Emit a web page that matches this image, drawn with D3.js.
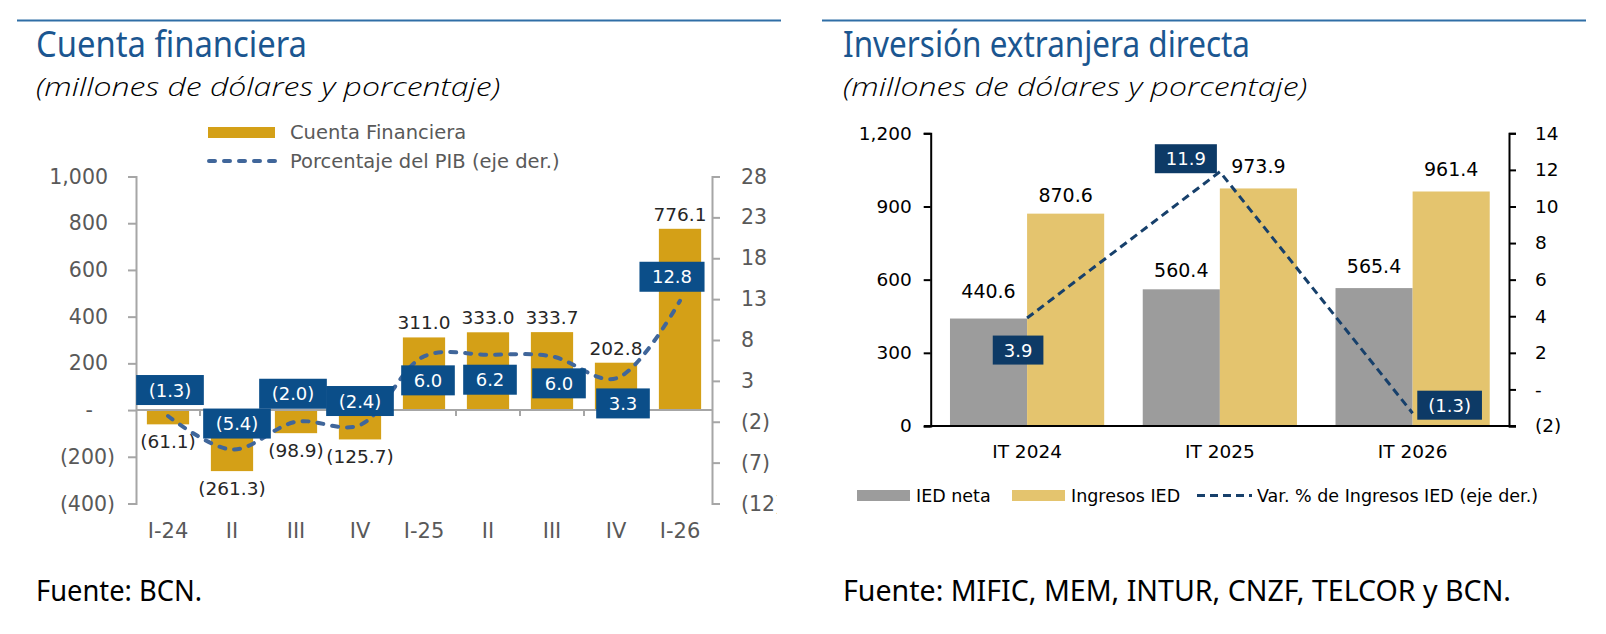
<!DOCTYPE html>
<meta charset="utf-8">
<style>
  body { margin: 0; background: #fff; }
  svg { display: block; }
</style>
<svg width="1606" height="634"></svg>
<script src="https://cdn.jsdelivr.net/npm/d3@7"></script>
<script>

// Cuenta financiera (millones de dolares, % del PIB)
var cfCategories = ["I-24", "II", "III", "IV", "I-25", "II", "III", "IV", "I-26"];
var cfCuenta = [-61.1, -261.3, -98.9, -125.7, 311.0, 333.0, 333.7, 202.8, 776.1];
var cfPib = [-1.3, -5.4, -2.0, -2.4, 6.0, 6.2, 6.0, 3.3, 12.8];
var cfLeftTicks = [-400, -200, 0, 200, 400, 600, 800, 1000];
var cfRightTicks = [-12, -7, -2, 3, 8, 13, 18, 23, 28];

// Inversion extranjera directa
var iedCategories = ["IT 2024", "IT 2025", "IT 2026"];
var iedNeta = [440.6, 560.4, 565.4];
var iedIngresos = [870.6, 973.9, 961.4];
var iedVar = [3.9, 11.9, -1.3];
var iedLeftTicks = [0, 300, 600, 900, 1200];
var iedRightTicks = [-2, 0, 2, 4, 6, 8, 10, 12, 14];

// where the % label boxes sit relative to their point
var cfBoxShift = [[2, -26], [5, -26], [-3, -28], [0, -24], [4, 24], [2, 25], [7, 27], [7, 25], [-8, -24]];
var iedBoxShift = [[-9, 32], [-34, -13], [37, -8]];
// extra lift for value labels that the line would cross
var iedNetaLift = [9, 0, 3];

var FONT = "'DejaVu Sans', Verdana, sans-serif";
var HEAD = "'Noto Sans', 'Open Sans', sans-serif";

function acct(fmt) {
  return function(v) { return v < 0 ? "(" + fmt(-v) + ")" : v === 0 ? "-" : fmt(v); };
}
var f1 = acct(d3.format(",.1f")),
    f0 = acct(d3.format(","));

var svg = d3.select("svg");

svg.append("defs").append("clipPath").attr("id", "clipL")
  .append("rect").attr("width", 777).attr("height", 634);

function header(lx0, lx1, tx, title, titleLen, foot, footLen) {
  svg.append("line")
      .attr("x1", lx0).attr("x2", lx1).attr("y1", 20.5).attr("y2", 20.5)
      .attr("stroke", "#2F6EA6").attr("stroke-width", 2);
  svg.append("text")
      .attr("x", tx).attr("y", 57)
      .attr("font-family", HEAD).attr("font-size", 36).attr("fill", "#1B5690")
      .attr("textLength", titleLen).attr("lengthAdjust", "spacingAndGlyphs")
      .text(title);
  svg.append("text")
      .attr("x", tx).attr("y", 96)
      .attr("font-family", "'Open Sans', 'Noto Sans', sans-serif").attr("font-weight", 300)
      .attr("font-size", 26).attr("font-style", "italic").attr("fill", "#000")
      .attr("textLength", 464).attr("lengthAdjust", "spacingAndGlyphs")
      .text("(millones de dólares y porcentaje)");
  svg.append("text")
      .attr("x", tx).attr("y", 601)
      .attr("font-family", HEAD)
      .attr("font-size", 29).attr("fill", "#000")
      .attr("textLength", footLen).attr("lengthAdjust", "spacingAndGlyphs")
      .text(foot);
}

header(17, 781, 36, "Cuenta financiera", 271, "Fuente: BCN.", 166);
header(822, 1586, 843, "Inversión extranjera directa", 407, "Fuente: MIFIC, MEM, INTUR, CNZF, TELCOR y BCN.", 668);

function labelBox(g, cx, cy, txt, fill, pad, h) {
  var b = g.append("g").attr("transform", "translate(" + cx + "," + cy + ")");
  var r = b.append("rect").attr("fill", fill);
  var t = b.append("text")
      .attr("text-anchor", "middle").attr("dy", "0.36em")
      .attr("font-family", FONT).attr("font-size", 18).attr("fill", "#fff")
      .text(txt);
  var w = t.node().getComputedTextLength() + pad;
  r.attr("x", -w / 2).attr("y", -h / 2).attr("width", w).attr("height", h);
}

// ---------- left: Cuenta financiera ----------
var cf = svg.append("g").attr("clip-path", "url(#clipL)");

var xCf = d3.scaleBand().domain(d3.range(cfCategories.length))
    .range([136, 712]).paddingInner(0.34).paddingOuter(0.17);
var yCf = d3.scaleLinear().domain([-400, 1000]).range([503.5, 176.5]);
var yCfR = d3.scaleLinear().domain([-12, 28]).range([503.5, 176.5]);

cf.selectAll(".bar")
  .data(cfCuenta)
  .join("rect")
    .attr("x", function(d, i) { return xCf(i); })
    .attr("width", xCf.bandwidth())
    .attr("y", function(d) { return Math.min(yCf(d), yCf(0)); })
    .attr("height", function(d) { return Math.abs(yCf(d) - yCf(0)); })
    .attr("fill", "#D4A017");

cf.selectAll(".val")
  .data(cfCuenta)
  .join("text")
    .attr("x", function(d, i) { return xCf(i) + xCf.bandwidth() / 2; })
    .attr("y", function(d) { return d >= 0 ? yCf(d) - 8 : yCf(d) + 24; })
    .attr("text-anchor", "middle")
    .attr("font-family", FONT).attr("font-size", 18.5).attr("fill", "#262626")
    .text(f1);

var axL = cf.append("g")
    .attr("transform", "translate(136,0)")
    .call(d3.axisLeft(yCf).tickValues(cfLeftTicks).tickSize(8).tickPadding(13).tickFormat(f0));
axL.selectAll("text").attr("dx", function(d) { return d < 0 ? 0 : d === 0 ? -22 : -7; });

var axR = cf.append("g")
    .attr("transform", "translate(712,0)")
    .call(d3.axisRight(yCfR).tickValues(cfRightTicks).tickSize(8).tickPadding(21).tickFormat(f0));

var axB = cf.append("g")
    .attr("transform", "translate(0," + yCf(0) + ")")
    .call(d3.axisBottom(xCf).tickSize(0).tickPadding(113).tickFormat(function(i) { return cfCategories[i]; }));
axB.select(".domain").remove();

[axL, axR, axB].forEach(function(a) {
  a.attr("font-family", FONT).attr("font-size", 20.5);
  a.selectAll("text").attr("fill", "#595959");
  a.selectAll(".domain, .tick line").attr("stroke", "#A6A6A6").attr("stroke-width", 2);
});
axB.attr("font-size", 21);

cf.append("line")
    .attr("x1", 136).attr("x2", 712).attr("y1", yCf(0)).attr("y2", yCf(0))
    .attr("stroke", "#A6A6A6").attr("stroke-width", 2);

cf.selectAll(".bnd")
  .data(d3.range(1, cfCategories.length))
  .join("line")
    .attr("x1", function(i) { return xCf(i) - xCf.step() * xCf.paddingInner() / 2; })
    .attr("x2", function(i) { return xCf(i) - xCf.step() * xCf.paddingInner() / 2; })
    .attr("y1", yCf(0)).attr("y2", yCf(0) + 6)
    .attr("stroke", "#A6A6A6").attr("stroke-width", 2);

var lineCf = d3.line()
    .x(function(d, i) { return xCf(i) + xCf.bandwidth() / 2; })
    .y(function(d) { return yCfR(d); })
    .curve(d3.curveCatmullRom.alpha(0.5));

cf.append("path")
    .datum(cfPib)
    .attr("fill", "none")
    .attr("stroke", "#40669A")
    .attr("stroke-width", 4)
    .attr("stroke-linecap", "round")
    .attr("stroke-dasharray", "6,9")
    .attr("d", lineCf);

cfPib.forEach(function(v, i) {
  labelBox(cf, xCf(i) + xCf.bandwidth() / 2 + cfBoxShift[i][0], yCfR(v) + cfBoxShift[i][1],
           f1(v), "#0B4E89", 25, 30);
});

// legend
cf.append("rect").attr("x", 208).attr("y", 127).attr("width", 67).attr("height", 11).attr("fill", "#D4A017");
cf.append("line").attr("x1", 209).attr("x2", 275).attr("y1", 161).attr("y2", 161)
    .attr("stroke", "#40669A").attr("stroke-width", 4).attr("stroke-linecap", "round").attr("stroke-dasharray", "6,9");
cf.append("text").attr("x", 290).attr("y", 139)
    .attr("font-family", FONT).attr("font-size", 19.5).attr("fill", "#595959").text("Cuenta Financiera");
cf.append("text").attr("x", 290).attr("y", 168)
    .attr("font-family", FONT).attr("font-size", 19.5).attr("fill", "#595959").text("Porcentaje del PIB (eje der.)");

// ---------- right: Inversion extranjera directa ----------
var ied = svg.append("g");

var x0 = d3.scaleBand().domain(iedCategories).range([930.7, 1509]).paddingInner(0.2).paddingOuter(0.1);
var x1 = d3.scaleBand().domain(["neta", "ingresos"]).range([0, x0.bandwidth()]);
var yI = d3.scaleLinear().domain([0, 1200]).range([426, 133.3]);
var yIR = d3.scaleLinear().domain([-2, 14]).range([426, 133.3]);

var series = [
  {key: "neta", values: iedNeta, color: "#9C9C9C", lift: iedNetaLift},
  {key: "ingresos", values: iedIngresos, color: "#E4C46E", lift: [0, 3, 3]}
];

series.forEach(function(s) {
  ied.selectAll(".b-" + s.key)
    .data(s.values)
    .join("rect")
      .attr("x", function(d, i) { return x0(iedCategories[i]) + x1(s.key); })
      .attr("width", x1.bandwidth())
      .attr("y", function(d) { return yI(d); })
      .attr("height", function(d) { return yI(0) - yI(d); })
      .attr("fill", s.color);
  ied.selectAll(".v-" + s.key)
    .data(s.values)
    .join("text")
      .attr("x", function(d, i) { return x0(iedCategories[i]) + x1(s.key) + x1.bandwidth() / 2; })
      .attr("y", function(d, i) { return yI(d) - 12 - s.lift[i]; })
      .attr("text-anchor", "middle")
      .attr("font-family", FONT).attr("font-size", 19).attr("fill", "#000")
      .text(f1);
});

var iL = ied.append("g")
    .attr("transform", "translate(930.7,0)")
    .call(d3.axisLeft(yI).tickValues(iedLeftTicks).tickSize(7).tickPadding(12).tickFormat(d3.format(",")));
var iR = ied.append("g")
    .attr("transform", "translate(1509,0)")
    .call(d3.axisRight(yIR).tickValues(iedRightTicks).tickSize(7).tickPadding(19).tickFormat(f0));
var iB = ied.append("g")
    .attr("transform", "translate(0," + yI(0) + ")")
    .call(d3.axisBottom(x0).tickSize(0).tickPadding(19));
iB.select(".domain").remove();

[iL, iR, iB].forEach(function(a) {
  a.attr("font-family", FONT).attr("font-size", 18.5);
  a.selectAll("text").attr("fill", "#000");
  a.selectAll(".domain, .tick line").attr("stroke", "#000").attr("stroke-width", 2);
});

ied.append("line")
    .attr("x1", 924).attr("x2", 1516).attr("y1", yI(0)).attr("y2", yI(0))
    .attr("stroke", "#000").attr("stroke-width", 2);

var lineIed = d3.line()
    .x(function(d, i) { return x0(iedCategories[i]) + x0.bandwidth() / 2; })
    .y(function(d) { return yIR(d); });

ied.append("path")
    .datum(iedVar)
    .attr("fill", "none")
    .attr("stroke", "#17406B")
    .attr("stroke-width", 3)
    .attr("stroke-dasharray", "8,5")
    .attr("d", lineIed);

iedVar.forEach(function(v, i) {
  labelBox(ied, x0(iedCategories[i]) + x0.bandwidth() / 2 + iedBoxShift[i][0], yIR(v) + iedBoxShift[i][1],
           f1(v), "#0D3A66", 22, 29);
});

// legend
var lg = [
  {x: 857, label: "IED neta", color: "#9C9C9C", tx: 916},
  {x: 1012, label: "Ingresos IED", color: "#E4C46E", tx: 1071}
];
lg.forEach(function(d) {
  ied.append("rect").attr("x", d.x).attr("y", 490).attr("width", 53).attr("height", 11).attr("fill", d.color);
  ied.append("text").attr("x", d.tx).attr("y", 502)
      .attr("font-family", FONT).attr("font-size", 17.5).attr("fill", "#000").text(d.label);
});
ied.append("line").attr("x1", 1197).attr("x2", 1252).attr("y1", 495.5).attr("y2", 495.5)
    .attr("stroke", "#17406B").attr("stroke-width", 3).attr("stroke-dasharray", "8,5");
ied.append("text").attr("x", 1257).attr("y", 502)
    .attr("font-family", FONT).attr("font-size", 17.5).attr("fill", "#000").text("Var. % de Ingresos IED (eje der.)");

</script>
